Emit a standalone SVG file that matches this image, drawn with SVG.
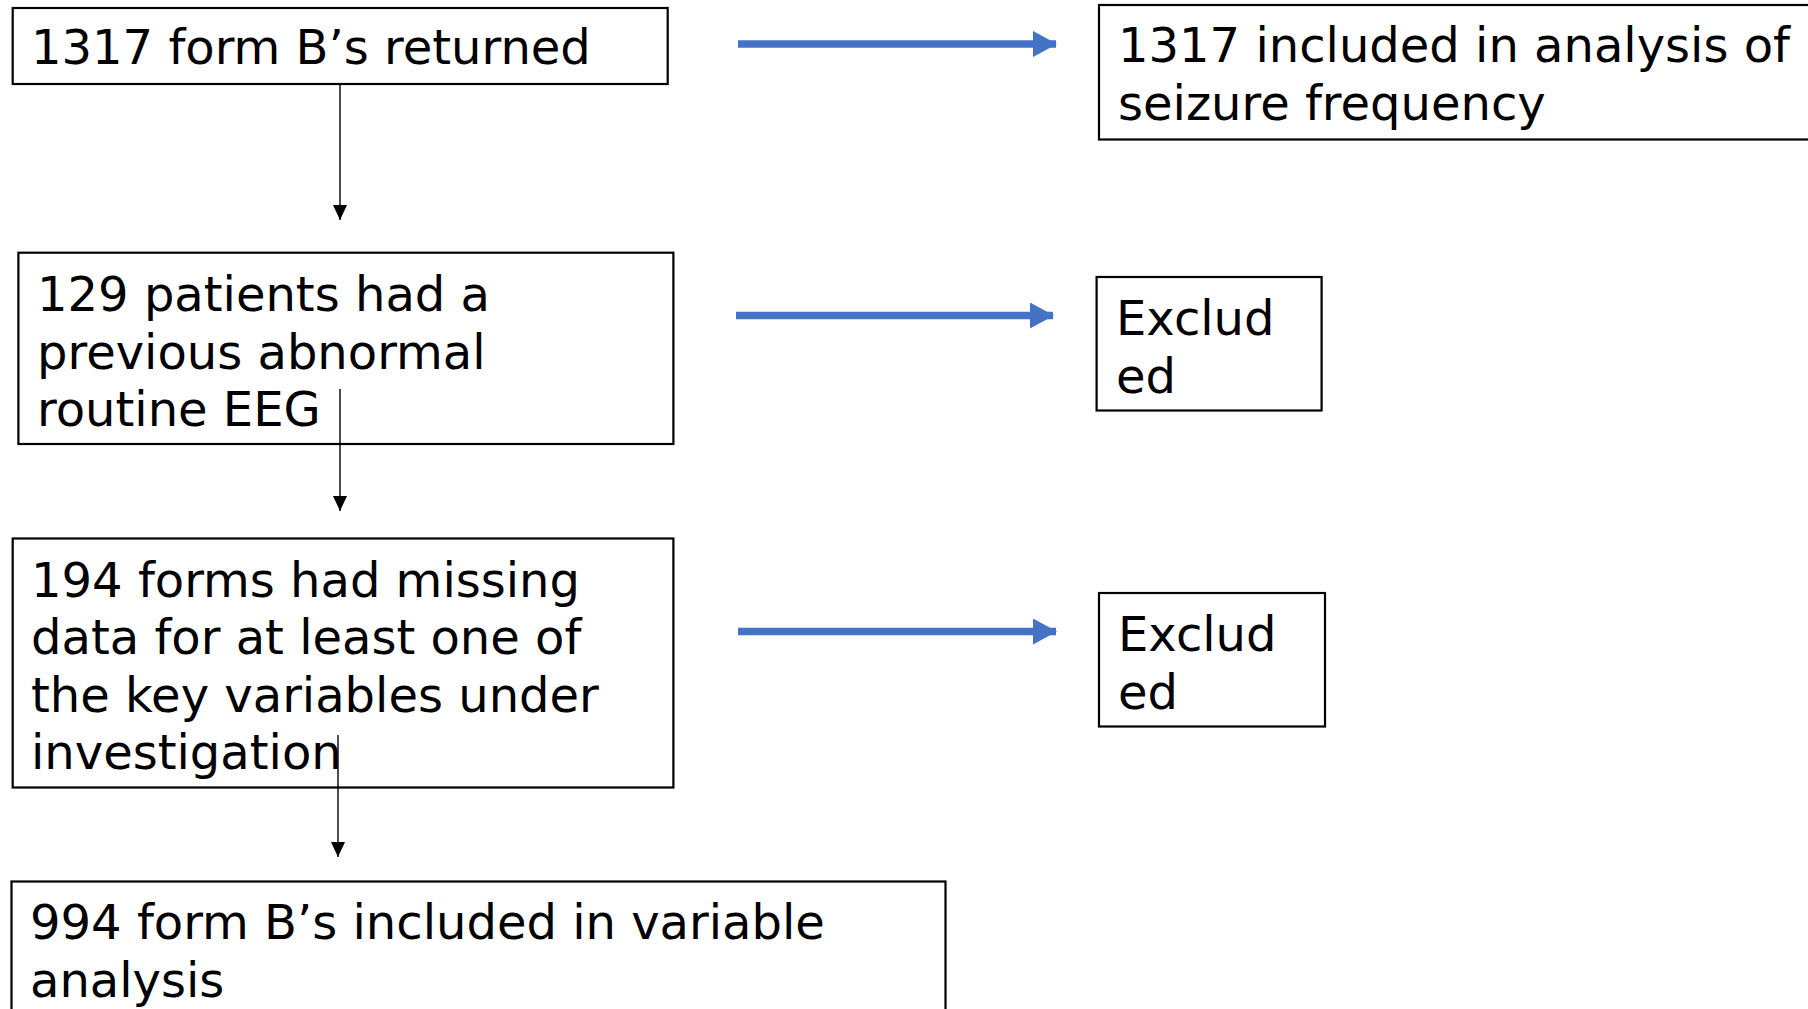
<svg xmlns="http://www.w3.org/2000/svg" width="1808" height="1009" viewBox="0 0 1808 1009">
<style>
.box{fill:#fff;stroke:#000;stroke-width:2.2}
.t{font-family:"DejaVu Sans",sans-serif;font-size:48px;fill:#000}
.blue{stroke:#4472C4;stroke-width:7.5;fill:none}
.blk{stroke:#000;stroke-width:1.4;fill:none}
</style>
<defs>
<marker id="bh" markerUnits="userSpaceOnUse" markerWidth="24" markerHeight="26" viewBox="0 0 24 26" refX="23" refY="13" orient="auto">
<path d="M0,0 L24,13 L0,26 Z" fill="#4472C4"/>
</marker>
<marker id="kh" markerUnits="userSpaceOnUse" markerWidth="15" markerHeight="14" viewBox="0 0 15 14" refX="15" refY="7" orient="auto">
<path d="M0,0 L15,7 L0,14 Z" fill="#000"/>
</marker>
</defs>
<g id="n1">
<rect class="box" x="12.7" y="8" width="655" height="76"/>
<text class="t" x="31" y="64">1317 form B’s returned</text>
</g>
<g id="n2">
<rect class="box" x="1099" y="5" width="715" height="134.5"/>
<text class="t" x="1118" y="62">1317 included in analysis of</text>
<text class="t" x="1118" y="119.5">seizure frequency</text>
</g>
<g id="n3">
<rect class="box" x="18.4" y="252.7" width="655" height="191.3"/>
<text class="t" x="37" y="311">129 patients had a</text>
<text class="t" x="37" y="368.5">previous abnormal</text>
<text class="t" x="37" y="426">routine EEG</text>
</g>
<g id="n4">
<rect class="box" x="1096.6" y="277" width="225" height="133.5"/>
<text class="t" x="1116" y="335">Exclud</text>
<text class="t" x="1116" y="392.5">ed</text>
</g>
<g id="n5">
<rect class="box" x="12.7" y="538.5" width="660.7" height="249"/>
<text class="t" x="31" y="596.5">194 forms had missing</text>
<text class="t" x="31" y="654">data for at least one of</text>
<text class="t" x="31" y="711.5">the key variables under</text>
<text class="t" x="31" y="769">investigation</text>
</g>
<g id="n6">
<rect class="box" x="1099" y="593" width="226" height="133.5"/>
<text class="t" x="1118" y="651">Exclud</text>
<text class="t" x="1118" y="708.5">ed</text>
</g>
<g id="n7">
<rect class="box" x="11.5" y="881.5" width="934" height="140"/>
<text class="t" x="30" y="939">994 form B’s included in variable</text>
<text class="t" x="30" y="996.5">analysis</text>
</g>
<g id="connectors">
<line class="blue" x1="738" y1="44" x2="1056" y2="44" marker-end="url(#bh)"/>
<line class="blue" x1="736" y1="315.5" x2="1053" y2="315.5" marker-end="url(#bh)"/>
<line class="blue" x1="738" y1="631.5" x2="1056" y2="631.5" marker-end="url(#bh)"/>
<line class="blk" x1="340" y1="85" x2="340" y2="220" marker-end="url(#kh)"/>
<line class="blk" x1="340" y1="389" x2="340" y2="511" marker-end="url(#kh)"/>
<line class="blk" x1="338" y1="735" x2="338" y2="857" marker-end="url(#kh)"/>
</g>
</svg>
